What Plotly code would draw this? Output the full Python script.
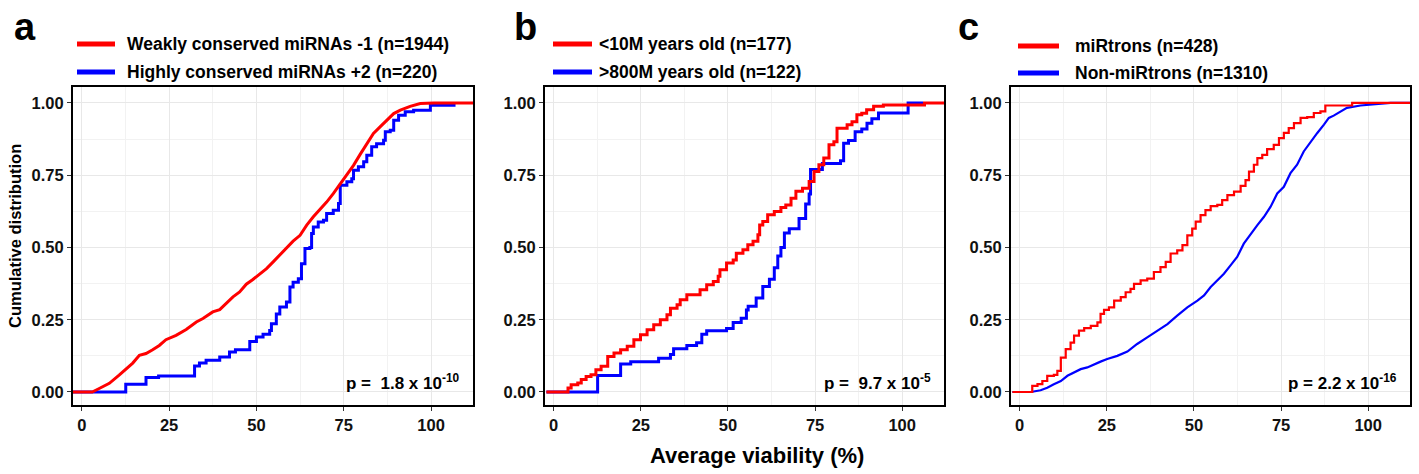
import plotly.graph_objects as go

W, H = 1419, 474

# ---------------- data ----------------
# Panel a
a_red_x = [-2.7, 3, 5, 7.9, 10.7, 12.6, 14.6, 16.5, 18.4, 20.3, 22.2, 24.1, 27, 29.9, 32.8, 34.7, 37.5, 39.5,
           41.4, 43.3, 45.2, 47.1, 49, 51, 52.9, 54.8, 56.7, 58.6, 60.5, 62.5, 64.4, 66.3, 68.2, 70.1, 72, 74,
           75.9, 77.8, 79.7, 81.6, 83.5, 85.4, 87.4, 89.3, 91.2, 94, 96.9, 100.8, 112]
a_red_y = [0, 0, 0.012, 0.03, 0.058, 0.08, 0.10, 0.127, 0.133, 0.146, 0.161, 0.181, 0.196, 0.216, 0.242, 0.254,
           0.277, 0.285, 0.306, 0.329, 0.346, 0.373, 0.389, 0.409, 0.427, 0.45, 0.473, 0.496, 0.522, 0.542, 0.577,
           0.606, 0.631, 0.657, 0.686, 0.721, 0.753, 0.784, 0.822, 0.859, 0.894, 0.917, 0.942, 0.963, 0.975,
           0.988, 0.998, 1.0, 1.0]
a_blue_x = [-2.7, 12.6, 18.4, 22, 32.3, 33.7, 35.6, 39.5, 42.3, 44, 48.1, 50, 51.9, 53.8, 54.3, 55.7, 56.7,
            58.6, 59.6, 60.5, 62, 62.9, 63.9, 65.3, 65.8, 66.3, 67.7, 69.2, 70.1, 72, 73.5, 74, 75.9, 77.3, 77.8,
            79.2, 80.7, 81.6, 83, 84.4, 86.4, 86.9, 88.3, 89.3, 90.7, 92.6, 95, 99.8, 107]
a_blue_y = [0, 0.027, 0.05, 0.055, 0.09, 0.1, 0.11, 0.121, 0.138, 0.146, 0.175, 0.19, 0.2, 0.213, 0.236, 0.27,
            0.294, 0.311, 0.363, 0.38, 0.392, 0.444, 0.496, 0.5, 0.548, 0.571, 0.588, 0.594, 0.617, 0.629, 0.652,
            0.715, 0.727, 0.738, 0.767, 0.779, 0.796, 0.819, 0.848, 0.859, 0.871, 0.9, 0.905, 0.94, 0.957, 0.969,
            0.975, 0.992, 0.992]

# Panel b
b_red_x = [-2.1, 2.7, 4.1, 5, 6.9, 7.9, 9.3, 10.7, 12.1, 13.6, 15.5, 17.3, 19.2, 21.1, 23, 24.9, 26.8, 28.7,
           30.6, 32.5, 33.5, 35.4, 36.3, 38.2, 40.1, 42, 43.9, 45.8, 47.2, 47.7, 49.6, 51.5, 52.4, 54.3, 55.7,
           57.2, 58.6, 59.1, 60, 61.4, 63.3, 65.2, 66.6, 68.1, 69.5, 71.4, 73.3, 74.7, 76.1, 77.5, 79, 80.4,
           81.3, 84.2, 85.6, 87, 88.4, 89.8, 91.8, 94.6, 106.4, 112]
b_red_y = [0, 0, 0.014, 0.025, 0.031, 0.043, 0.054, 0.06, 0.077, 0.089, 0.123, 0.135, 0.146, 0.158, 0.181,
           0.198, 0.215, 0.233, 0.25, 0.267, 0.29, 0.302, 0.319, 0.336, 0.336, 0.354, 0.371, 0.382, 0.4, 0.423,
           0.446, 0.457, 0.48, 0.492, 0.509, 0.521, 0.544, 0.578, 0.59, 0.613, 0.624, 0.638, 0.647, 0.67, 0.694,
           0.705, 0.728, 0.763, 0.786, 0.809, 0.855, 0.866, 0.912, 0.924, 0.935, 0.959, 0.964, 0.976, 0.988,
           0.993, 1.0, 1.0]
b_blue_x = [-2.1, 12.6, 19.2, 22.1, 30.1, 33.5, 34.4, 38.2, 41, 42.5, 43.9, 49.6, 51.5, 53.8, 55.3, 55.8, 58.1,
            60, 61.9, 63.3, 64.3, 65.2, 66.2, 67.6, 70.4, 72.3, 73.3, 73.7, 77.1, 82.3, 83.2, 84.6, 86.5, 88.4,
            89.9, 91.3, 93.2, 101.7, 106]
b_blue_y = [0, 0.057, 0.097, 0.105, 0.117, 0.13, 0.15, 0.161, 0.17, 0.2, 0.212, 0.22, 0.24, 0.255, 0.284,
            0.297, 0.325, 0.365, 0.39, 0.43, 0.47, 0.5, 0.55, 0.565, 0.6, 0.65, 0.685, 0.77, 0.79, 0.8, 0.86,
            0.87, 0.9, 0.91, 0.93, 0.945, 0.965, 1.0, 1.0]

# Panel c
c_red_x = [-2.1, 3.2, 3.6, 5.1, 6.5, 7.9, 9.8, 10.8, 11.8, 13.2, 14.6, 15.6, 17, 18.5, 20.4, 22.3, 23.2, 24.2,
           25.6, 27.1, 29, 30.4, 31.8, 32.8, 34.7, 36.6, 38.5, 40.4, 41.9, 43.3, 45.2, 46.7, 48.1, 49.5, 50.5,
           51.9, 53.3, 54.8, 56.7, 58.1, 59.6, 61.5, 63.4, 64.8, 65.8, 67.2, 68.2, 69.6, 71, 72.9, 74.4, 75.8,
           77.2, 78.7, 80.6, 82.5, 84.4, 86.3, 87.7, 93, 95.4, 112]
c_red_y = [0, 0, 0.021, 0.027, 0.038, 0.056, 0.059, 0.073, 0.119, 0.148, 0.171, 0.195, 0.212, 0.221, 0.229,
           0.241, 0.27, 0.284, 0.293, 0.316, 0.328, 0.345, 0.357, 0.374, 0.386, 0.392, 0.415, 0.432, 0.45, 0.479,
           0.49, 0.508, 0.542, 0.565, 0.589, 0.612, 0.629, 0.643, 0.647, 0.664, 0.681, 0.693, 0.713, 0.733,
           0.762, 0.786, 0.809, 0.82, 0.84, 0.855, 0.878, 0.896, 0.913, 0.93, 0.948, 0.951, 0.965, 0.971,
           0.991, 0.991, 1.0, 1.0]
c_blue_x = [-2.1, 3.2, 6, 7.9, 9.8, 11.8, 13.7, 15.6, 17.5, 19.4, 21.3, 23.2, 25.1, 28, 30.9, 33.7, 36.6, 39.5,
            42.4, 45.2, 48.1, 51, 52.9, 54.8, 56.7, 58.6, 60.5, 62.4, 64.3, 66.3, 68.2, 70.1, 72, 73.9, 75.8,
            77.7, 79.6, 81.5, 83.5, 85.4, 87.3, 88.7, 90.1, 92, 93.9, 97.8, 101.6, 106.4, 112]
c_blue_y = [0, 0, 0.006, 0.015, 0.027, 0.038, 0.056, 0.067, 0.079, 0.085, 0.096, 0.105, 0.114, 0.125, 0.14,
            0.166, 0.189, 0.212, 0.235, 0.264, 0.293, 0.316, 0.334, 0.363, 0.386, 0.409, 0.438, 0.467, 0.513,
            0.548, 0.577, 0.606, 0.641, 0.687, 0.71, 0.757, 0.786, 0.832, 0.867, 0.896, 0.925, 0.948, 0.956,
            0.971, 0.983, 0.991, 0.995, 1.0, 1.0]

panel_letters = ["a", "b", "c"]
legend_red = ["Weakly conserved miRNAs -1 (n=1944)", "<10M years old (n=177)", "miRtrons (n=428)"]
legend_blue = ["Highly conserved miRNAs +2 (n=220)", ">800M years old (n=122)", "Non-miRtrons (n=1310)"]
p_texts = ["p =  1.8 x 10<sup>-10</sup>", "p =  9.7 x 10<sup>-5</sup>", "p = 2.2 x 10<sup>-16</sup>"]
x_ticks = [0, 25, 50, 75, 100]
y_ticks = [0, 0.25, 0.5, 0.75, 1.0]
y_tick_text = ["0.00", "0.25", "0.50", "0.75", "1.00"]

RED, BLUE = "#ff0000", "#0000ff"
FONT = "Liberation Sans, Arial, sans-serif"

series = [
    (a_red_x, a_red_y, "linear", a_blue_x, a_blue_y, "hv", 3),
    (b_red_x, b_red_y, "hv", b_blue_x, b_blue_y, "hv", 3),
    (c_red_x, c_red_y, "hv", c_blue_x, c_blue_y, "linear", 2.2),
]

# pixel layout
frames = [(73, 473), (545, 944), (1011, 1410)]
top_px, bot_px = 87, 405
letter_x = [25, 525, 968]
swatch_x = [(77, 115), (553, 592), (1018, 1059)]
legend_text_x = [125, 597, 1073]
legend_y = [(44, 72), (44, 72), (46, 73)]

fig = go.Figure()

def px(x):
    return x / W

def py(y):
    return 1 - y / H

for i, (rx, ry, rs, bx, by, bs, lw) in enumerate(series):
    xa = "x" if i == 0 else f"x{i+1}"
    ya = "y" if i == 0 else f"y{i+1}"
    fig.add_trace(go.Scatter(x=bx, y=by, mode="lines", line=dict(color=BLUE, width=lw, shape=bs),
                             xaxis=xa, yaxis=ya, showlegend=False, hoverinfo="skip"))
    fig.add_trace(go.Scatter(x=rx, y=ry, mode="lines", line=dict(color=RED, width=lw, shape=rs),
                             xaxis=xa, yaxis=ya, showlegend=False, hoverinfo="skip"))

tickfont = dict(family=FONT, size=16.5, color="#111", weight="bold")
for i in range(3):
    xk = "xaxis" if i == 0 else f"xaxis{i+1}"
    yk = "yaxis" if i == 0 else f"yaxis{i+1}"
    fig.layout[xk] = dict(
        domain=[px(frames[i][0]), px(frames[i][1])], anchor="y" if i == 0 else f"y{i+1}",
        range=[-2.5, 112], tickvals=x_ticks, ticks="outside", ticklen=4, tickwidth=1, tickcolor="#333",
        showline=True, mirror=True, linecolor="black", linewidth=2, zeroline=False,
        showgrid=True, gridcolor="#e8e8e8", gridwidth=1.2, tickfont=tickfont,
        minor=dict(tickvals=[12.5, 37.5, 62.5, 87.5], showgrid=True, gridcolor="#f2f2f2", gridwidth=1, ticks=""),
    )
    fig.layout[yk] = dict(
        domain=[py(bot_px), py(top_px)], anchor="x" if i == 0 else f"x{i+1}",
        range=[-0.045, 1.055], tickvals=y_ticks, ticktext=y_tick_text, ticks="outside", ticklen=4,
        tickwidth=1, tickcolor="#333",
        showline=True, mirror=True, linecolor="black", linewidth=2, zeroline=False,
        showgrid=True, gridcolor="#e8e8e8", gridwidth=1.2, tickfont=tickfont,
        minor=dict(tickvals=[0.125, 0.375, 0.625, 0.875], showgrid=True, gridcolor="#f2f2f2", gridwidth=1, ticks=""),
    )

annotations = []
shapes = []
for i in range(3):
    annotations.append(dict(text=panel_letters[i], x=px(letter_x[i]), y=py(27), xref="paper", yref="paper",
                            xanchor="center", yanchor="middle", showarrow=False,
                            font=dict(family=FONT, size=38, color="black", weight="bold")))
    for txt, col, yy in [(legend_red[i], RED, legend_y[i][0]), (legend_blue[i], BLUE, legend_y[i][1])]:
        shapes.append(dict(type="line", xref="paper", yref="paper", x0=px(swatch_x[i][0]), x1=px(swatch_x[i][1]),
                           y0=py(yy), y1=py(yy), line=dict(color=col, width=5)))
        annotations.append(dict(text=txt, x=px(legend_text_x[i]), y=py(yy), xref="paper", yref="paper",
                                xanchor="left", yanchor="middle", showarrow=False,
                                font=dict(family=FONT, size=17.5, color="black", weight="bold")))
    xr = "x" if i == 0 else f"x{i+1}"
    yr = "y" if i == 0 else f"y{i+1}"
    annotations.append(dict(text=p_texts[i], x=108.8, y=0.035, xref=xr, yref=yr, xanchor="right",
                            yanchor="middle", showarrow=False,
                            font=dict(family=FONT, size=17, color="black", weight="bold")))

annotations.append(dict(text="Cumulative distribution", x=px(15), y=py(236), xref="paper", yref="paper",
                        textangle=-90, xanchor="center", yanchor="middle", showarrow=False,
                        font=dict(family=FONT, size=16.5, color="black", weight="bold")))
annotations.append(dict(text="Average viability (%)", x=px(757), y=py(455), xref="paper", yref="paper",
                        xanchor="center", yanchor="middle", showarrow=False,
                        font=dict(family=FONT, size=22, color="black", weight="bold")))

fig.update_layout(width=W, height=H, margin=dict(l=0, r=0, t=0, b=0), paper_bgcolor="white",
                  plot_bgcolor="white", annotations=annotations, shapes=shapes, showlegend=False)

fig.write_html("out.html", config={"displayModeBar": False},
               post_script="document.body.style.margin='0';document.body.style.overflow='hidden';")
